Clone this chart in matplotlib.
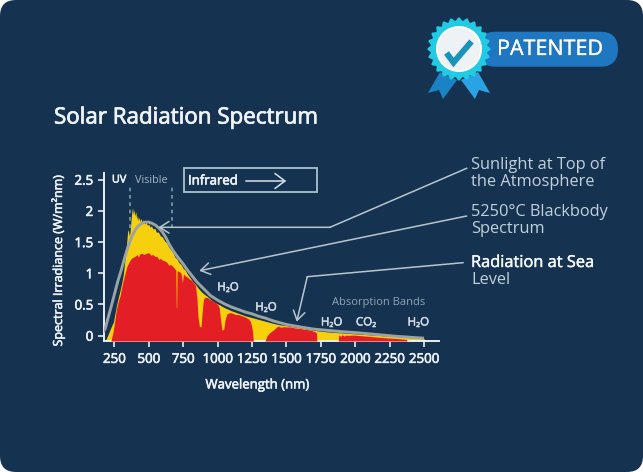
import numpy as np
import matplotlib
matplotlib.use("Agg")
import matplotlib.pyplot as plt
import matplotlib.patheffects as pe
from matplotlib.patches import FancyBboxPatch, Polygon, Circle, Rectangle

# ---------------- data ----------------
bb_wl = [170, 185, 200, 225, 250, 275, 300, 325, 350, 375, 400, 425, 450, 475, 500,
         525, 550, 575, 600, 625, 650, 675, 700, 725, 750, 775, 800, 850, 900, 950,
         1000, 1050, 1100, 1150, 1200, 1250, 1300, 1350, 1400, 1500, 1600, 1700,
         1800, 1900, 2000, 2100, 2200, 2300, 2400, 2500]
bb_val = [0.06, 0.12, 0.25, 0.45, 0.66, 0.87, 1.05, 1.25, 1.43, 1.58, 1.69, 1.76, 1.80,
          1.82, 1.82, 1.80, 1.77, 1.72, 1.66, 1.57, 1.46, 1.37, 1.29, 1.22, 1.15, 1.07,
          1.00, 0.86, 0.75, 0.64, 0.57, 0.51, 0.46, 0.42, 0.38, 0.35, 0.31, 0.28, 0.24,
          0.18, 0.14, 0.105, 0.085, 0.065, 0.05, 0.03, 0.01, -0.01, -0.025, -0.04]

toa_wl = [183, 195, 210, 225, 243, 255, 267, 280, 291, 303, 315, 325, 333, 340, 346,
          352, 358, 364, 370, 376, 382, 388, 394, 400, 406, 412, 418, 424, 430, 437,
          444, 452, 460, 470, 480, 490, 500, 510, 520, 530, 545, 555, 570, 585, 600,
          615, 630, 645, 660, 675, 690, 705, 720, 735, 750, 765, 780, 800, 820, 840,
          860, 880, 900, 925, 950, 975, 1000, 1050, 1100, 1150, 1200, 1250, 1300,
          1350, 1400, 1450, 1500, 1600, 1700, 1800, 1900, 2000, 2100, 2200, 2300,
          2400, 2500, 2502]
toa_val = [-0.085, -0.03, 0.05, 0.13, 0.22, 0.36, 0.50, 0.62, 0.72, 0.84, 0.98, 1.18,
           1.35, 1.50, 1.66, 1.70, 1.60, 1.65, 1.82, 1.97, 2.05, 1.94, 2.02, 1.92, 1.99,
           1.87, 1.93, 1.84, 1.90, 1.83, 1.88, 1.81, 1.86, 1.79, 1.82, 1.77, 1.79, 1.74,
           1.76, 1.71, 1.72, 1.66, 1.66, 1.60, 1.58, 1.52, 1.49, 1.42, 1.38, 1.33, 1.26,
           1.23, 1.17, 1.14, 1.08, 1.05, 0.99, 0.93, 0.87, 0.82, 0.76, 0.71, 0.67, 0.63,
           0.58, 0.54, 0.51, 0.45, 0.40, 0.36, 0.32, 0.29, 0.26, 0.23, 0.20, 0.175, 0.16,
           0.125, 0.085, 0.06, 0.045, 0.03, 0.015, 0.0, -0.015, -0.03, -0.04, -0.085]

sea_wl = [225, 240, 252, 265, 280, 292, 303, 315, 328, 340, 352, 364, 380, 400, 415,
          425, 435, 450, 465, 480, 500, 515, 530, 545, 560, 575, 582, 600, 615, 630,
          645, 660, 679, 690, 697, 700, 703, 706, 720, 735, 745, 752, 765, 780, 795,
          810, 824, 840, 850, 858, 868, 880, 887, 897, 910, 925, 945, 965, 985, 1000,
          1012, 1022, 1032, 1045, 1055, 1068, 1090, 1110, 1130, 1150, 1175, 1200,
          1225, 1240, 1252, 1260, 1345, 1360, 1380, 1405, 1425, 1441, 1460, 1480,
          1502, 1530, 1560, 1600, 1640, 1672, 1700, 1718, 1722, 1877, 1880, 1895,
          1905, 1920, 1935, 1950, 1985, 2100, 2200, 2300, 2374, 2376]
sea_val = [-0.085, 0.05, 0.22, 0.42, 0.56, 0.64, 0.77, 0.89, 1.00, 1.10, 1.16, 1.21,
           1.25, 1.27, 1.30, 1.26, 1.31, 1.32, 1.30, 1.32, 1.33, 1.29, 1.30, 1.27, 1.27,
           1.22, 1.24, 1.21, 1.20, 1.18, 1.13, 1.14, 1.10, 1.07, 1.05, 0.45, 0.45, 1.04,
           1.03, 1.00, 0.85, 0.99, 0.96, 0.94, 0.91, 0.89, 0.86, 0.80, 0.60, 0.30, 0.15,
           0.14, 0.35, 0.58, 0.62, 0.61, 0.58, 0.56, 0.53, 0.50, 0.45, 0.25, 0.09, 0.10,
           0.26, 0.35, 0.37, 0.36, 0.34, 0.34, 0.32, 0.30, 0.27, 0.22, 0.10, -0.085,
           -0.085, 0.0, 0.05, 0.09, 0.13, 0.155, 0.135, 0.145, 0.14, 0.14, 0.125, 0.115,
           0.10, 0.09, 0.07, 0.05, -0.085, -0.085, 0.01, -0.01, 0.015, -0.005, 0.01,
           0.005, 0.01, -0.01, -0.03, -0.045, -0.06, -0.085]

x_ticks = [250, 500, 750, 1000, 1250, 1500, 1750, 2000, 2250, 2500]
y_ticks = [0, 0.5, 1, 1.5, 2, 2.5]
y_tick_labels = ["0", "0.5", "1", "1.5", "2", "2.5"]

band_labels = ["H\u2082O", "H\u2082O", "H\u2082O", "CO\u2082", "H\u2082O"]
band_wl = [1076, 1352, 1829, 2079, 2459]
band_val = [0.78, 0.46, 0.22, 0.22, 0.22]

visible_edges = [364, 667]

# ---------------- style ----------------
W, H = 643, 472
BG = "#153350"
YEL = "#f6cf0e"
RED = "#e31e24"
GRAY = "#9aa3a6"
TXT = "#eef3f7"
SOFT = "#c3d0dc"
LINE = "#b9c5cd"
FONT = ["Open Sans", "DejaVu Sans"]
plt.rcParams["font.family"] = FONT


def semi(color, w=0.4):
    return [pe.withStroke(linewidth=w, foreground=color)]


fig = plt.figure(figsize=(W / 100, H / 100), dpi=100, facecolor="white")

# background card
bg = fig.add_axes([0, 0, 1, 1], zorder=0)
bg.set_xlim(0, W); bg.set_ylim(H, 0); bg.axis("off")
bg.add_patch(FancyBboxPatch((0, 0), W, H, boxstyle="round,pad=0,rounding_size=16",
                            facecolor=BG, edgecolor="none"))

# main chart
YMIN, YMAX = -0.085, 2.607
XMIN, XMAX = 177, 2609
ax = fig.add_axes([104.3 / W, 1 - 341 / H, (439 - 104.3) / W, (341 - 173) / H], zorder=1)
ax.set_facecolor("none")
ax.set_xlim(XMIN, XMAX)
ax.set_ylim(YMIN, YMAX)

ax.fill_between(toa_wl, YMIN, toa_val, color=YEL, linewidth=0, zorder=2)
ax.fill_between(sea_wl, YMIN, sea_val, color=RED, linewidth=0, zorder=3)
ax.plot(bb_wl, bb_val, color=GRAY, lw=2.1, zorder=4, solid_capstyle="butt")

for v in visible_edges:
    ax.plot([v, v], [1.72, 2.415], color="#7f99ab", lw=1.2, dashes=(2.2, 2.2), zorder=5)

for s in ["top", "right"]:
    ax.spines[s].set_visible(False)
for s in ["left", "bottom"]:
    ax.spines[s].set_color("#e8eef2")
    ax.spines[s].set_linewidth(1.4)

ax.set_xticks(x_ticks)
ax.set_xticklabels([str(t) for t in x_ticks])
ax.set_yticks(y_ticks)
ax.set_yticklabels(y_tick_labels)
ax.tick_params(axis="both", colors="#e8eef2", length=4, width=1.2, labelsize=9.6,
               labelcolor=TXT)
ax.tick_params(axis="x", pad=4.5)
ax.tick_params(axis="y", pad=4)
for lab in ax.get_xticklabels() + ax.get_yticklabels():
    lab.set_path_effects(semi(TXT, 0.45))

for lbl, w, v in zip(band_labels, band_wl, band_val):
    ax.text(w, v, lbl, color="#d3dce4", fontsize=8.3, ha="center", va="center",
            zorder=6, path_effects=semi("#d3dce4", 0.35))
ax.text(2168, 0.535, "Absorption Bands", color="#8fa3b5", fontsize=8,
        ha="center", va="center", zorder=6)
ax.text(285, 2.494, "UV", color=TXT, fontsize=7.8, ha="center", va="center",
        path_effects=semi(TXT, 0.4))
ax.text(520, 2.494, "Visible", color="#a3b4c3", fontsize=7.8, ha="center", va="center")

# overlay in pixel coordinates
ov = fig.add_axes([0, 0, 1, 1], zorder=2)
ov.set_xlim(0, W); ov.set_ylim(H, 0); ov.axis("off")
ov.patch.set_alpha(0)

# titles
ov.text(54, 118, "Solar Radiation Spectrum", color=TXT, fontsize=16.1,
        ha="left", va="center", path_effects=semi(TXT, 0.55))
ov.text(58, 260, "Spectral Irradiance (W/m\u00b2nm)", color=TXT, fontsize=9,
        rotation=90, ha="center", va="center", path_effects=semi(TXT, 0.4))
ov.text(258, 385, "Wavelength (nm)", color=TXT, fontsize=9.5,
        ha="center", va="center", path_effects=semi(TXT, 0.4))

# infrared box
ov.add_patch(Rectangle((184, 168.3), 132.7, 24, facecolor="none", edgecolor="#a9c2cf",
                       lw=1.3))
ov.text(188, 181, "Infrared", color=TXT, fontsize=9.5, ha="left", va="center",
        path_effects=semi(TXT, 0.45))
ov.annotate("", xy=(289, 181), xytext=(243, 181),
            arrowprops=dict(arrowstyle="->,head_length=0.6,head_width=0.45",
                            color="#d8e2ea", lw=1.1, mutation_scale=12))

# right-hand labels
RFS = 11.8
ov.text(471, 165, "Sunlight at Top of", color=SOFT, fontsize=RFS, ha="left", va="center")
ov.text(471, 182, "the Atmosphere", color=SOFT, fontsize=RFS, ha="left", va="center")
ov.text(471, 212, "5250\u00b0C Blackbody", color=SOFT, fontsize=RFS, ha="left", va="center")
ov.text(471, 229, "Spectrum", color=SOFT, fontsize=RFS, ha="left", va="center")
ov.text(471, 263, "Radiation at Sea", color="#f7f9fb", fontsize=RFS, ha="left",
        va="center", path_effects=semi("#f7f9fb", 0.3))
ov.text(471, 280, "Level", color=SOFT, fontsize=RFS, ha="left", va="center")

arrow_kw = dict(arrowstyle="->,head_length=0.55,head_width=0.35", color=LINE, lw=1.1,
                mutation_scale=12, shrinkA=0, shrinkB=0)
# Sunlight leader
ov.plot([466.7, 330], [168.3, 227.3], color=LINE, lw=1.1)
ov.annotate("", xy=(570, 1.737), xycoords=ax.transData, xytext=(330, 227.3),
            textcoords=ov.transData, arrowprops=arrow_kw)
# Blackbody leader
ov.annotate("", xy=(867, 1.04), xycoords=ax.transData, xytext=(466.7, 216),
            textcoords=ov.transData, arrowprops=arrow_kw)
# Sea-level leader
ov.plot([463, 307.3], [262.7, 276.7], color=LINE, lw=1.1)
ov.annotate("", xy=(1575, 0.224), xycoords=ax.transData, xytext=(307.3, 276.7),
            textcoords=ov.transData, arrowprops=arrow_kw)

# ---------------- badge ----------------
ov.add_patch(FancyBboxPatch((478, 31.7), 140, 35, boxstyle="round,pad=0,rounding_size=17.5",
                            facecolor="#1e77c0", edgecolor="none"))
ov.text(550, 49.5, "PATENTED", color="white", fontsize=15.5, ha="center", va="center",
        path_effects=semi("white", 0.2))
ov.add_patch(Polygon([(440, 72), (457, 80), (443, 99), (439, 90), (428, 93)],
                     closed=True, facecolor="#1b82c6", edgecolor="none"))
ov.add_patch(Polygon([(461, 80), (478, 72), (490, 93), (479, 90), (475, 99)],
                     closed=True, facecolor="#2aa3e4", edgecolor="none"))
th = np.linspace(0, 2 * np.pi, 500)
rr = 30 + 1.6 * np.cos(24 * th)
ov.add_patch(Polygon(np.column_stack([459 + rr * np.cos(th), 49 + rr * np.sin(th)]),
                     closed=True, facecolor="#22cbe3", edgecolor="none"))
ov.add_patch(Circle((459, 49), 23, facecolor="white", edgecolor="none"))
ov.add_patch(Circle((459, 49), 21, facecolor="#eef2f5", edgecolor="none"))
ov.plot([446.5, 453.5, 471.5], [53, 62.5, 41.5], color="#1a93b8", lw=4.3,
        solid_capstyle="butt", solid_joinstyle="miter")

fig.savefig("out.png", dpi=100, facecolor="white")
